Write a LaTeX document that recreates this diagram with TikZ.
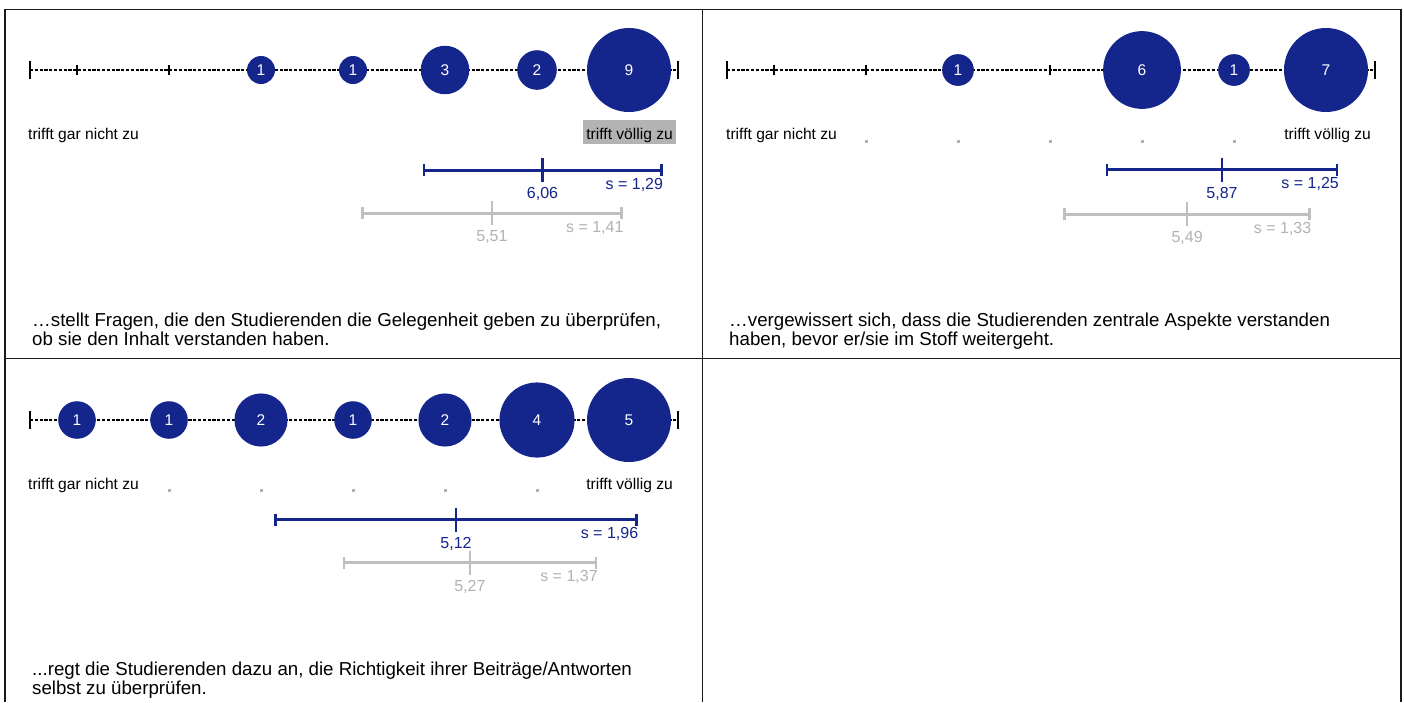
\documentclass[tikz,border=0pt]{standalone}
\usepackage{fontspec}
\setmainfont{Liberation Sans}
\usetikzlibrary{calc}
\definecolor{navy}{RGB}{20,37,140}
\definecolor{bargray}{RGB}{191,191,191}
\definecolor{txtgray}{RGB}{178,178,178}
\definecolor{hlgray}{RGB}{179,179,179}
\definecolor{dotgray}{RGB}{176,176,176}
\definecolor{framec}{RGB}{25,25,25}
\tikzset{
  frame/.style={draw=framec, line width=1.8},
  axisline/.style={draw=black, line width=2.6, dash pattern=on 3.2 off 1.6},
  innertick/.style={draw=black, line width=2},
  endtick/.style={draw=black, line width=2.8},
  bubble/.style={circle, fill=navy, inner sep=0, text=white, font=\fontsize{15.5}{18}\selectfont},
  lbl/.style={inner sep=0, font=\fontsize{15.6}{18}\selectfont},
  desc/.style={inner sep=0, font=\fontsize{18.7}{19}\selectfont},
  bluebar/.style={draw=navy},
  graybar/.style={draw=bargray},
  bluetxt/.style={inner sep=0, font=\fontsize{16}{18}\selectfont, text=navy},
  graytxt/.style={inner sep=0, font=\fontsize{16}{18}\selectfont, text=txtgray},
}
% axis: #1 x of first category, #2 y, #3 name prefix
\newcommand\panelaxis[3]{%
  \coordinate (#3L) at ({#1-47},#2);
  \coordinate (#3R) at ({#1+601},#2);
  \draw[axisline] (#3L) -- (#3R);
  \foreach \k in {0,...,6} {\draw[innertick] ({#1+92*\k},{#2-5}) -- ({#1+92*\k},{#2+5});}
  \draw[endtick] ($(#3L)+(0,-9)$) -- ($(#3L)+(0,9)$);
  \draw[endtick] ($(#3R)+(0,-9)$) -- ($(#3R)+(0,9)$);
}
% bubble: #1 x0, #2 y, #3 category, #4 count, #5 max, #6 name
\newcommand\bub[6]{%
  \node[bubble, minimum size={84*sqrt(#4/#5)}] (#6) at ({#1+92*(#3-1)},#2) {#4};
}
% mean bar: #1 x0, #2 y, #3 mean, #4 s, #5 bar style, #6 text style, #7 mean label, #8 s label, #9 name
\newcommand\meanbar[9]{%
  \coordinate (#9m) at ({#1+92*(#3-1)},#2);
  \coordinate (#9a) at ({#1+92*(#3-1-#4)},#2);
  \coordinate (#9b) at ({#1+92*(#3-1+#4)},#2);
  \draw[#5, line width=3] (#9a) -- (#9b);
  \draw[#5, line width=2.6] ($(#9a)+(0,-6)$) -- ($(#9a)+(0,6)$);
  \draw[#5, line width=2.6] ($(#9b)+(0,-6)$) -- ($(#9b)+(0,6)$);
  \draw[#5, line width=2.6] ($(#9m)+(0,-12)$) -- ($(#9m)+(0,12)$);
  \node[#6, anchor=base] (#9ml) at ($(#9m)+(0,28.5)$) {#7};
  \node[#6, anchor=base east] (#9sl) at ($(#9b)+(2,19)$) {s = #8};
}
\begin{document}
\begin{tikzpicture}[x=1pt, y=-1pt]
\useasboundingbox (0,0) rectangle (1404,702);
\fill[white] (0,0) rectangle (1404,702);
% frame
\draw[frame] (5,702) |- (1401,9.5) -- (1401,702);
\draw[frame] (702.5,9.5) -- (702.5,702);
\draw[frame] (5,358.5) -- (1401,358.5);

% ---------- panel 1 ----------
\panelaxis{77}{70}{pa}
\bub{77}{70}{3}{1}{9}{pa3}
\bub{77}{70}{4}{1}{9}{pa4}
\bub{77}{70}{5}{3}{9}{pa5}
\bub{77}{70}{6}{2}{9}{pa6}
\bub{77}{70}{7}{9}{9}{pa7}
\node[lbl, anchor=base west] (palo) at (28,139.5) {trifft gar nicht zu};
\node[fill=hlgray, inner sep=0, minimum width=93, minimum height=24] (pahl) at (629.5,132) {};
\node[lbl, anchor=base east] (pahi) at (673,139.5) {trifft völlig zu};
\meanbar{77}{170}{6.06}{1.29}{bluebar}{bluetxt}{6,06}{1,29}{pab}
\meanbar{77}{213}{5.51}{1.41}{graybar}{graytxt}{5,51}{1,41}{pag}
\node[desc, anchor=base west] (pad1) at (32,326) {…stellt Fragen, die den Studierenden die Gelegenheit geben zu überprüfen,};
\node[desc, anchor=base west] (pad2) at (32,345) {ob sie den Inhalt verstanden haben.};

% ---------- panel 2 ----------
\panelaxis{774}{70}{pb}
\bub{774}{70}{3}{1}{7}{pb3}
\bub{774}{70}{5}{6}{7}{pb5}
\bub{774}{70}{6}{1}{7}{pb6}
\bub{774}{70}{7}{7}{7}{pb7}
\node[lbl, anchor=base west] (pblo) at (726,139.5) {trifft gar nicht zu};
\node[lbl, anchor=base east] (pbhi) at (1371,139.5) {trifft völlig zu};
\foreach \k in {1,...,5} {\fill[dotgray] ({774+92*\k-1.5},139.5) rectangle ++(3,3);}
\meanbar{774}{169.5}{5.87}{1.25}{bluebar}{bluetxt}{5,87}{1,25}{pbb}
\meanbar{774}{214}{5.49}{1.33}{graybar}{graytxt}{5,49}{1,33}{pbg}
\node[desc, anchor=base west] (pbd1) at (729,326) {…vergewissert sich, dass die Studierenden zentrale Aspekte verstanden};
\node[desc, anchor=base west] (pbd2) at (729,345) {haben, bevor er/sie im Stoff weitergeht.};

% ---------- panel 3 ----------
\panelaxis{77}{420}{pc}
\bub{77}{420}{1}{1}{5}{pc1}
\bub{77}{420}{2}{1}{5}{pc2}
\bub{77}{420}{3}{2}{5}{pc3}
\bub{77}{420}{4}{1}{5}{pc4}
\bub{77}{420}{5}{2}{5}{pc5}
\bub{77}{420}{6}{4}{5}{pc6}
\bub{77}{420}{7}{5}{5}{pc7}
\node[lbl, anchor=base west] (pclo) at (28,489) {trifft gar nicht zu};
\node[lbl, anchor=base east] (pchi) at (673,489) {trifft völlig zu};
\foreach \k in {1,...,5} {\fill[dotgray] ({77+92*\k-1.5},488.5) rectangle ++(3,3);}
\meanbar{77}{519.5}{5.12}{1.96}{bluebar}{bluetxt}{5,12}{1,96}{pcb}
\meanbar{77}{562.5}{5.27}{1.37}{graybar}{graytxt}{5,27}{1,37}{pcg}
\node[desc, anchor=base west] (pcd1) at (32,675) {...regt die Studierenden dazu an, die Richtigkeit ihrer Beiträge/Antworten};
\node[desc, anchor=base west] (pcd2) at (32,694) {selbst zu überprüfen.};
\end{tikzpicture}
\end{document}
